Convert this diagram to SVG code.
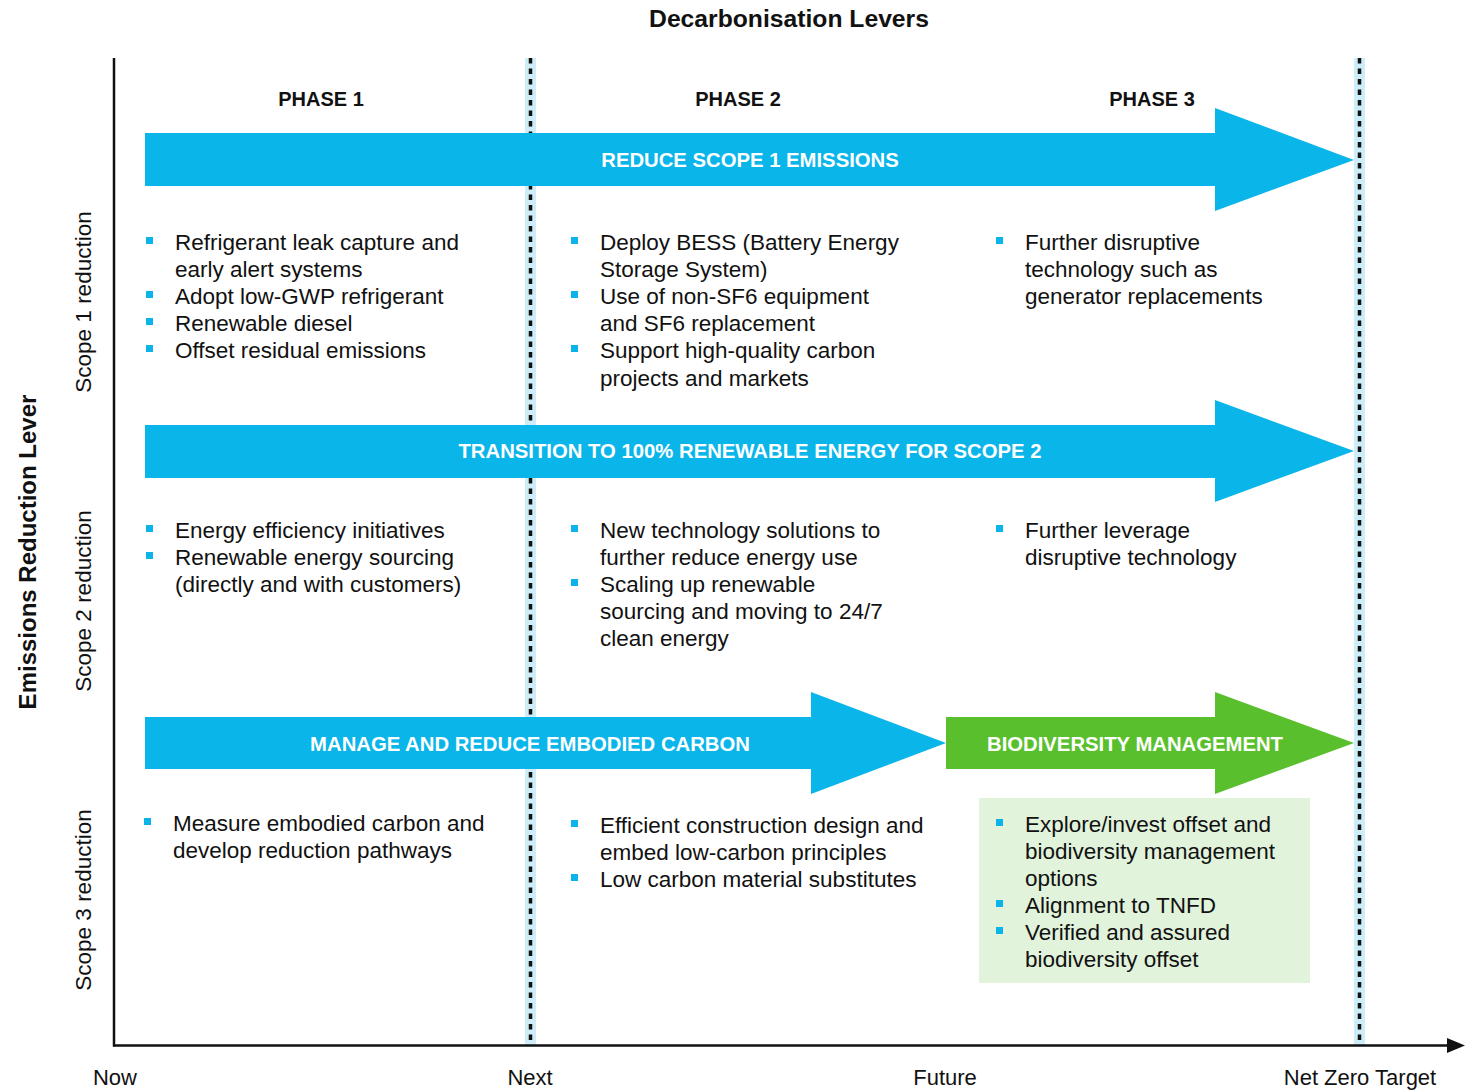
<svg xmlns="http://www.w3.org/2000/svg" width="1473" height="1092" viewBox="0 0 1473 1092">
<style>
text{font-family:"Liberation Sans",Arial,sans-serif;fill:#111}
.t{font-size:22.5px}
.h{font-size:20px;font-weight:bold}
.al{font-size:20.3px;font-weight:bold;fill:#fff;text-anchor:middle}
.ax{font-size:22px;text-anchor:middle}
.sc{font-size:22.5px;text-anchor:middle}
.b{fill:#0ab4ea}
.band{fill:#cdeef9}
.dash{stroke:#111;stroke-width:3.5;stroke-dasharray:5.5 5;fill:none}
.blue{fill:#0ab5ea}
.green{fill:#5abf2d}
</style>
<rect width="1473" height="1092" fill="#fff"/>
<text x="789" y="27" font-size="24.7" font-weight="bold" text-anchor="middle">Decarbonisation Levers</text>
<text transform="translate(36 552) rotate(-90)" font-size="24" font-weight="bold" text-anchor="middle">Emissions Reduction Lever</text>
<text class="sc" transform="translate(91 302) rotate(-90)">Scope 1 reduction</text>
<text class="sc" transform="translate(91 601) rotate(-90)">Scope 2 reduction</text>
<text class="sc" transform="translate(91 900) rotate(-90)">Scope 3 reduction</text>

<g id="phase-lines">
<rect class="band" x="525" y="58" width="11" height="987"/>
<line class="dash" x1="530.5" y1="58" x2="530.5" y2="1045"/>
<rect class="band" x="1354" y="58" width="11" height="987"/>
<line class="dash" x1="1359.5" y1="58" x2="1359.5" y2="1045"/>
</g>

<g id="connectors">
<line x1="114" y1="58" x2="114" y2="1046.5" stroke="#111" stroke-width="2.5"/>
<line x1="113" y1="1045.5" x2="1450" y2="1045.5" stroke="#111" stroke-width="2.5"/>
<polygon points="1447,1038 1465,1045.5 1447,1053" fill="#111"/>
</g>

<g id="axis-labels">
<text class="ax" x="115" y="1085">Now</text>
<text class="ax" x="530" y="1085">Next</text>
<text class="ax" x="945" y="1085">Future</text>
<text class="ax" x="1360" y="1085">Net Zero Target</text>
</g>

<g id="phases">
<text class="h" x="321" y="106" text-anchor="middle">PHASE 1</text>
<text class="h" x="738" y="106" text-anchor="middle">PHASE 2</text>
<text class="h" x="1152" y="106" text-anchor="middle">PHASE 3</text>
</g>

<g id="arrow-scope1">
<polygon class="blue" points="145,133 1215,133 1215,108 1354,160 1215,211 1215,186 145,186"/>
<text class="al" x="750" y="167">REDUCE SCOPE 1 EMISSIONS</text>
</g>
<g id="arrow-scope2">
<polygon class="blue" points="145,425 1215,425 1215,400 1354,451 1215,502 1215,478 145,478"/>
<text class="al" x="750" y="458">TRANSITION TO 100% RENEWABLE ENERGY FOR SCOPE 2</text>
</g>
<g id="arrow-embodied">
<polygon class="blue" points="145,717 811,717 811,692 946,743 811,794 811,769 145,769"/>
<text class="al" x="530" y="750.5">MANAGE AND REDUCE EMBODIED CARBON</text>
</g>
<g id="arrow-biodiversity">
<polygon class="green" points="946,717 1215,717 1215,692 1354,743 1215,794 1215,769 946,769"/>
<text class="al" x="1135" y="750.5">BIODIVERSITY MANAGEMENT</text>
</g>

<g id="s1-p1">
<rect class="b" x="146" y="237" width="7" height="7"/>
<rect class="b" x="146" y="291" width="7" height="7"/>
<rect class="b" x="146" y="318" width="7" height="7"/>
<rect class="b" x="146" y="345" width="7" height="7"/>
<text class="t" x="175" y="250">Refrigerant leak capture and</text>
<text class="t" x="175" y="277">early alert systems</text>
<text class="t" x="175" y="304">Adopt low-GWP refrigerant</text>
<text class="t" x="175" y="331">Renewable diesel</text>
<text class="t" x="175" y="358">Offset residual emissions</text>
</g>
<g id="s1-p2">
<rect class="b" x="571" y="237" width="7" height="7"/>
<rect class="b" x="571" y="291" width="7" height="7"/>
<rect class="b" x="571" y="345" width="7" height="7"/>
<text class="t" x="600" y="250">Deploy BESS (Battery Energy</text>
<text class="t" x="600" y="277">Storage System)</text>
<text class="t" x="600" y="304">Use of non-SF6 equipment</text>
<text class="t" x="600" y="331">and SF6 replacement</text>
<text class="t" x="600" y="358">Support high-quality carbon</text>
<text class="t" x="600" y="386">projects and markets</text>
</g>
<g id="s1-p3">
<rect class="b" x="996" y="237" width="7" height="7"/>
<text class="t" x="1025" y="250">Further disruptive</text>
<text class="t" x="1025" y="277">technology such as</text>
<text class="t" x="1025" y="304">generator replacements</text>
</g>

<g id="s2-p1">
<rect class="b" x="146" y="525" width="7" height="7"/>
<rect class="b" x="146" y="552" width="7" height="7"/>
<text class="t" x="175" y="538">Energy efficiency initiatives</text>
<text class="t" x="175" y="565">Renewable energy sourcing</text>
<text class="t" x="175" y="592">(directly and with customers)</text>
</g>
<g id="s2-p2">
<rect class="b" x="571" y="525" width="7" height="7"/>
<rect class="b" x="571" y="579" width="7" height="7"/>
<text class="t" x="600" y="538">New technology solutions to</text>
<text class="t" x="600" y="565">further reduce energy use</text>
<text class="t" x="600" y="592">Scaling up renewable</text>
<text class="t" x="600" y="619">sourcing and moving to 24/7</text>
<text class="t" x="600" y="646">clean energy</text>
</g>
<g id="s2-p3">
<rect class="b" x="996" y="525" width="7" height="7"/>
<text class="t" x="1025" y="538">Further leverage</text>
<text class="t" x="1025" y="565">disruptive technology</text>
</g>

<g id="s3-p1">
<rect class="b" x="144" y="818" width="7" height="7"/>
<text class="t" x="173" y="831">Measure embodied carbon and</text>
<text class="t" x="173" y="858">develop reduction pathways</text>
</g>
<g id="s3-p2">
<rect class="b" x="571" y="820" width="7" height="7"/>
<rect class="b" x="571" y="874" width="7" height="7"/>
<text class="t" x="600" y="833">Efficient construction design and</text>
<text class="t" x="600" y="860">embed low-carbon principles</text>
<text class="t" x="600" y="887">Low carbon material substitutes</text>
</g>
<g id="s3-p3">
<rect x="979" y="798" width="331" height="185" fill="#e1f3db"/>
<rect class="b" x="996" y="819" width="7" height="7"/>
<rect class="b" x="996" y="900" width="7" height="7"/>
<rect class="b" x="996" y="927" width="7" height="7"/>
<text class="t" x="1025" y="832">Explore/invest offset and</text>
<text class="t" x="1025" y="859">biodiversity management</text>
<text class="t" x="1025" y="886">options</text>
<text class="t" x="1025" y="913">Alignment to TNFD</text>
<text class="t" x="1025" y="940">Verified and assured</text>
<text class="t" x="1025" y="967">biodiversity offset</text>
</g>
</svg>
